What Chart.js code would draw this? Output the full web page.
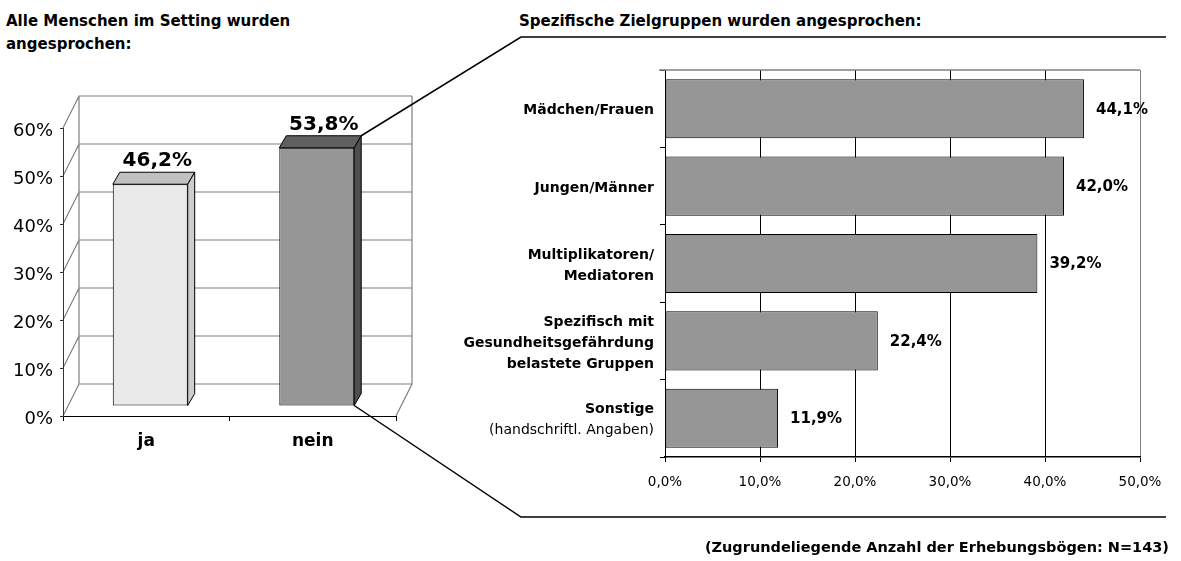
<!DOCTYPE html>
<html lang="de">
<head>
  <meta charset="UTF-8">
  <title>Zielgruppen</title>
  <script src="https://cdn.jsdelivr.net/npm/chart.js"></script>
  <style>
    body {
      margin: 0;
      width: 1181px;
      height: 561px;
      background: #fff;
      font-family: 'DejaVu Sans', sans-serif;
      color: #000;
      position: relative;
      overflow: hidden;
    }
    canvas { position: absolute; }
    #leftChart { left: 0; top: 0; }
    #rightChart { left: 440px; top: 55px; }
    .title {
      position: absolute;
      font-weight: bold;
      font-size: 15px;
      line-height: 23px;
      white-space: nowrap;
    }
    #leftTitle { left: 6px; top: 10px; }
    #rightTitle { left: 519px; top: 10px; }
    #note {
      position: absolute;
      right: 12px;
      top: 539px;
      font-weight: bold;
      font-size: 14.5px;
      line-height: 16px;
      white-space: nowrap;
    }
  </style>
</head>
<body>

  <div class="title" id="leftTitle">Alle Menschen im Setting wurden<br>angesprochen:</div>
  <div class="title" id="rightTitle">Spezifische Zielgruppen wurden angesprochen:</div>

  <canvas id="leftChart" width="1181" height="561"></canvas>
  <canvas id="rightChart" width="741" height="440"></canvas>

  <div id="note">(Zugrundeliegende Anzahl der Erhebungsbögen: N=143)</div>

  <script>
    // data: left chart (all people in the setting)
    const allCats = ['ja', 'nein'];
    const allVals = [46.2, 53.8];
    const allFronts = ['#eaeaea', '#969696'];
    const allTops = ['#c0c0c0', '#606060'];
    const allSides = ['#cccccc', '#4e4e4e'];

    // data: right chart (specific target groups)
    const groupCats = [
      'Mädchen/Frauen',
      'Jungen/Männer',
      'Multiplikatoren/\nMediatoren',
      'Spezifisch mit\nGesundheitsgefährdung\nbelastete Gruppen',
      'Sonstige\n(handschriftl. Angaben)'
    ];
    const groupVals = [44.1, 42.0, 39.2, 22.4, 11.9];

    const FONT = "'DejaVu Sans', sans-serif";
    Chart.defaults.font.family = FONT;
    Chart.defaults.color = '#000';

    const pct = v => v.toFixed(1).replace('.', ',') + '%';

    // 3D look for the left chart
    const wall = { dx: 16, dy: -32 };
    const shift = { dx: 4, dy: -10 };
    const bar3d = { dx: 7, dy: -12 };

    const walls3d = {
      id: 'walls3d',
      beforeDraw(chart) {
        const { ctx, chartArea: a, scales: { y } } = chart;
        ctx.save();
        ctx.strokeStyle = '#808080';
        ctx.lineWidth = 1.2;
        ctx.beginPath();
        for (let v = y.min; v <= y.max; v += 10) {
          const py = y.getPixelForValue(v);
          ctx.moveTo(a.left, py);
          ctx.lineTo(a.left + wall.dx, py + wall.dy);
          ctx.lineTo(a.right + wall.dx, py + wall.dy);
        }
        const top = y.getPixelForValue(y.max) + wall.dy;
        const bot = y.getPixelForValue(0) + wall.dy;
        ctx.moveTo(a.left + wall.dx, top);
        ctx.lineTo(a.left + wall.dx, bot);
        ctx.moveTo(a.right + wall.dx, top);
        ctx.lineTo(a.right + wall.dx, bot);
        ctx.lineTo(a.right, a.bottom);
        ctx.stroke();
        ctx.restore();
      },
      beforeDatasetsDraw(chart) {
        chart.ctx.save();
        chart.ctx.translate(shift.dx, shift.dy);
      },
      afterDatasetsDraw(chart) {
        const ctx = chart.ctx;
        ctx.restore();
        const bars = chart.getDatasetMeta(0).data;
        ctx.save();
        ctx.strokeStyle = '#000';
        ctx.lineWidth = 1;
        bars.forEach((b, i) => {
          const L = b.x - b.width / 2 + shift.dx;
          const R = b.x + b.width / 2 + shift.dx;
          const T = b.y + shift.dy;
          const B = b.base + shift.dy;
          ctx.fillStyle = allTops[i];
          ctx.beginPath();
          ctx.moveTo(L, T);
          ctx.lineTo(R, T);
          ctx.lineTo(R + bar3d.dx, T + bar3d.dy);
          ctx.lineTo(L + bar3d.dx, T + bar3d.dy);
          ctx.closePath();
          ctx.fill();
          ctx.stroke();
          ctx.fillStyle = allSides[i];
          ctx.beginPath();
          ctx.moveTo(R, T);
          ctx.lineTo(R + bar3d.dx, T + bar3d.dy);
          ctx.lineTo(R + bar3d.dx, B + bar3d.dy);
          ctx.lineTo(R, B);
          ctx.closePath();
          ctx.fill();
          ctx.stroke();

          ctx.fillStyle = '#000';
          ctx.font = 'bold 20px ' + FONT;
          ctx.textAlign = 'center';
          ctx.textBaseline = 'middle';
          ctx.fillText(pct(allVals[i]), (L + R) / 2 + bar3d.dx, T + bar3d.dy - 11);
        });
        ctx.restore();
      },
      afterDraw(chart) {
        // zoom lines from the "nein" bar to the right chart
        const ctx = chart.ctx;
        const b = chart.getDatasetMeta(0).data[1];
        const R = b.x + b.width / 2 + shift.dx;
        const T = b.y + shift.dy;
        const B = b.base + shift.dy;
        ctx.save();
        ctx.strokeStyle = '#000';
        ctx.lineWidth = 1.5;
        ctx.beginPath();
        ctx.moveTo(R + bar3d.dx, T + bar3d.dy);
        ctx.lineTo(521, 37);
        ctx.lineTo(1166, 37);
        ctx.moveTo(R, B);
        ctx.lineTo(521, 517);
        ctx.lineTo(1166, 517);
        ctx.stroke();
        ctx.restore();
      }
    };

    new Chart(document.getElementById('leftChart'), {
      type: 'bar',
      data: {
        labels: allCats,
        datasets: [{
          data: allVals,
          backgroundColor: allFronts,
          borderColor: '#000',
          borderWidth: 1,
          borderSkipped: false,
          categoryPercentage: 1,
          barPercentage: 0.45
        }]
      },
      options: {
        responsive: false,
        animation: false,
        devicePixelRatio: 1,
        layout: { padding: { top: 128, right: 785, bottom: 91, left: 0 } },
        plugins: { legend: { display: false }, tooltip: { enabled: false } },
        scales: {
          x: {
            afterFit: s => { s.height = 54; },
            grid: { drawOnChartArea: false, tickLength: 5, color: '#000' },
            border: { color: '#000', width: 1 },
            ticks: { font: { size: 17, weight: 'bold' }, padding: 10 }
          },
          y: {
            min: 0,
            max: 60,
            afterFit: s => { s.width = 63; },
            grid: { drawOnChartArea: false, tickLength: 3, color: '#333' },
            border: { color: '#333', width: 1 },
            ticks: { stepSize: 10, font: { size: 18 }, padding: 7, labelOffset: 3, callback: v => v + '%' }
          }
        }
      },
      plugins: [walls3d]
    });

    const groupLabels = {
      id: 'groupLabels',
      afterDraw(chart) {
        const { ctx, chartArea: a, scales: { y } } = chart;
        ctx.save();
        // top frame line
        ctx.strokeStyle = '#808080';
        ctx.lineWidth = 1.3;
        ctx.beginPath();
        ctx.moveTo(a.left - 6, a.top);
        ctx.lineTo(a.right, a.top);
        ctx.stroke();

        ctx.fillStyle = '#000';
        ctx.textAlign = 'right';
        ctx.textBaseline = 'middle';
        groupCats.forEach((c, i) => {
          const lines = c.split('\n');
          const cy = y.getPixelForValue(i) + 2;
          lines.forEach((ln, k) => {
            ctx.font = (ln.startsWith('(') ? '' : 'bold ') + '14px ' + FONT;
            ctx.fillText(ln, a.left - 11, cy + (k - (lines.length - 1) / 2) * 21);
          });
        });

        ctx.textAlign = 'left';
        ctx.font = 'bold 15px ' + FONT;
        chart.getDatasetMeta(0).data.forEach((b, i) => {
          ctx.fillText(pct(groupVals[i]), b.x + 12, b.y + 1);
        });
        ctx.restore();
      }
    };

    new Chart(document.getElementById('rightChart'), {
      type: 'bar',
      data: {
        labels: groupCats,
        datasets: [{
          data: groupVals,
          backgroundColor: '#969696',
          borderColor: '#000',
          borderWidth: 1,
          borderSkipped: false,
          categoryPercentage: 1,
          barPercentage: 0.763
        }]
      },
      options: {
        indexAxis: 'y',
        responsive: false,
        animation: false,
        devicePixelRatio: 1,
        layout: { padding: { top: 15, right: 41, bottom: 0, left: 0 } },
        plugins: { legend: { display: false }, tooltip: { enabled: false } },
        scales: {
          x: {
            min: 0,
            max: 50,
            afterFit: s => { s.height = 38; },
            grid: {
              tickLength: 5,
              color: c => (c.tick && c.tick.value === 50 ? '#808080' : '#000'),
              tickColor: '#000'
            },
            border: { color: '#000', width: 1.5 },
            ticks: { stepSize: 10, font: { size: 13.5 }, padding: 12, callback: v => pct(v) }
          },
          y: {
            afterFit: s => { s.width = 225; },
            grid: { drawOnChartArea: false, tickLength: 5, color: '#000' },
            border: { color: '#000', width: 1 },
            ticks: { display: false }
          }
        }
      },
      plugins: [groupLabels]
    });
  </script>

</body>
</html>
